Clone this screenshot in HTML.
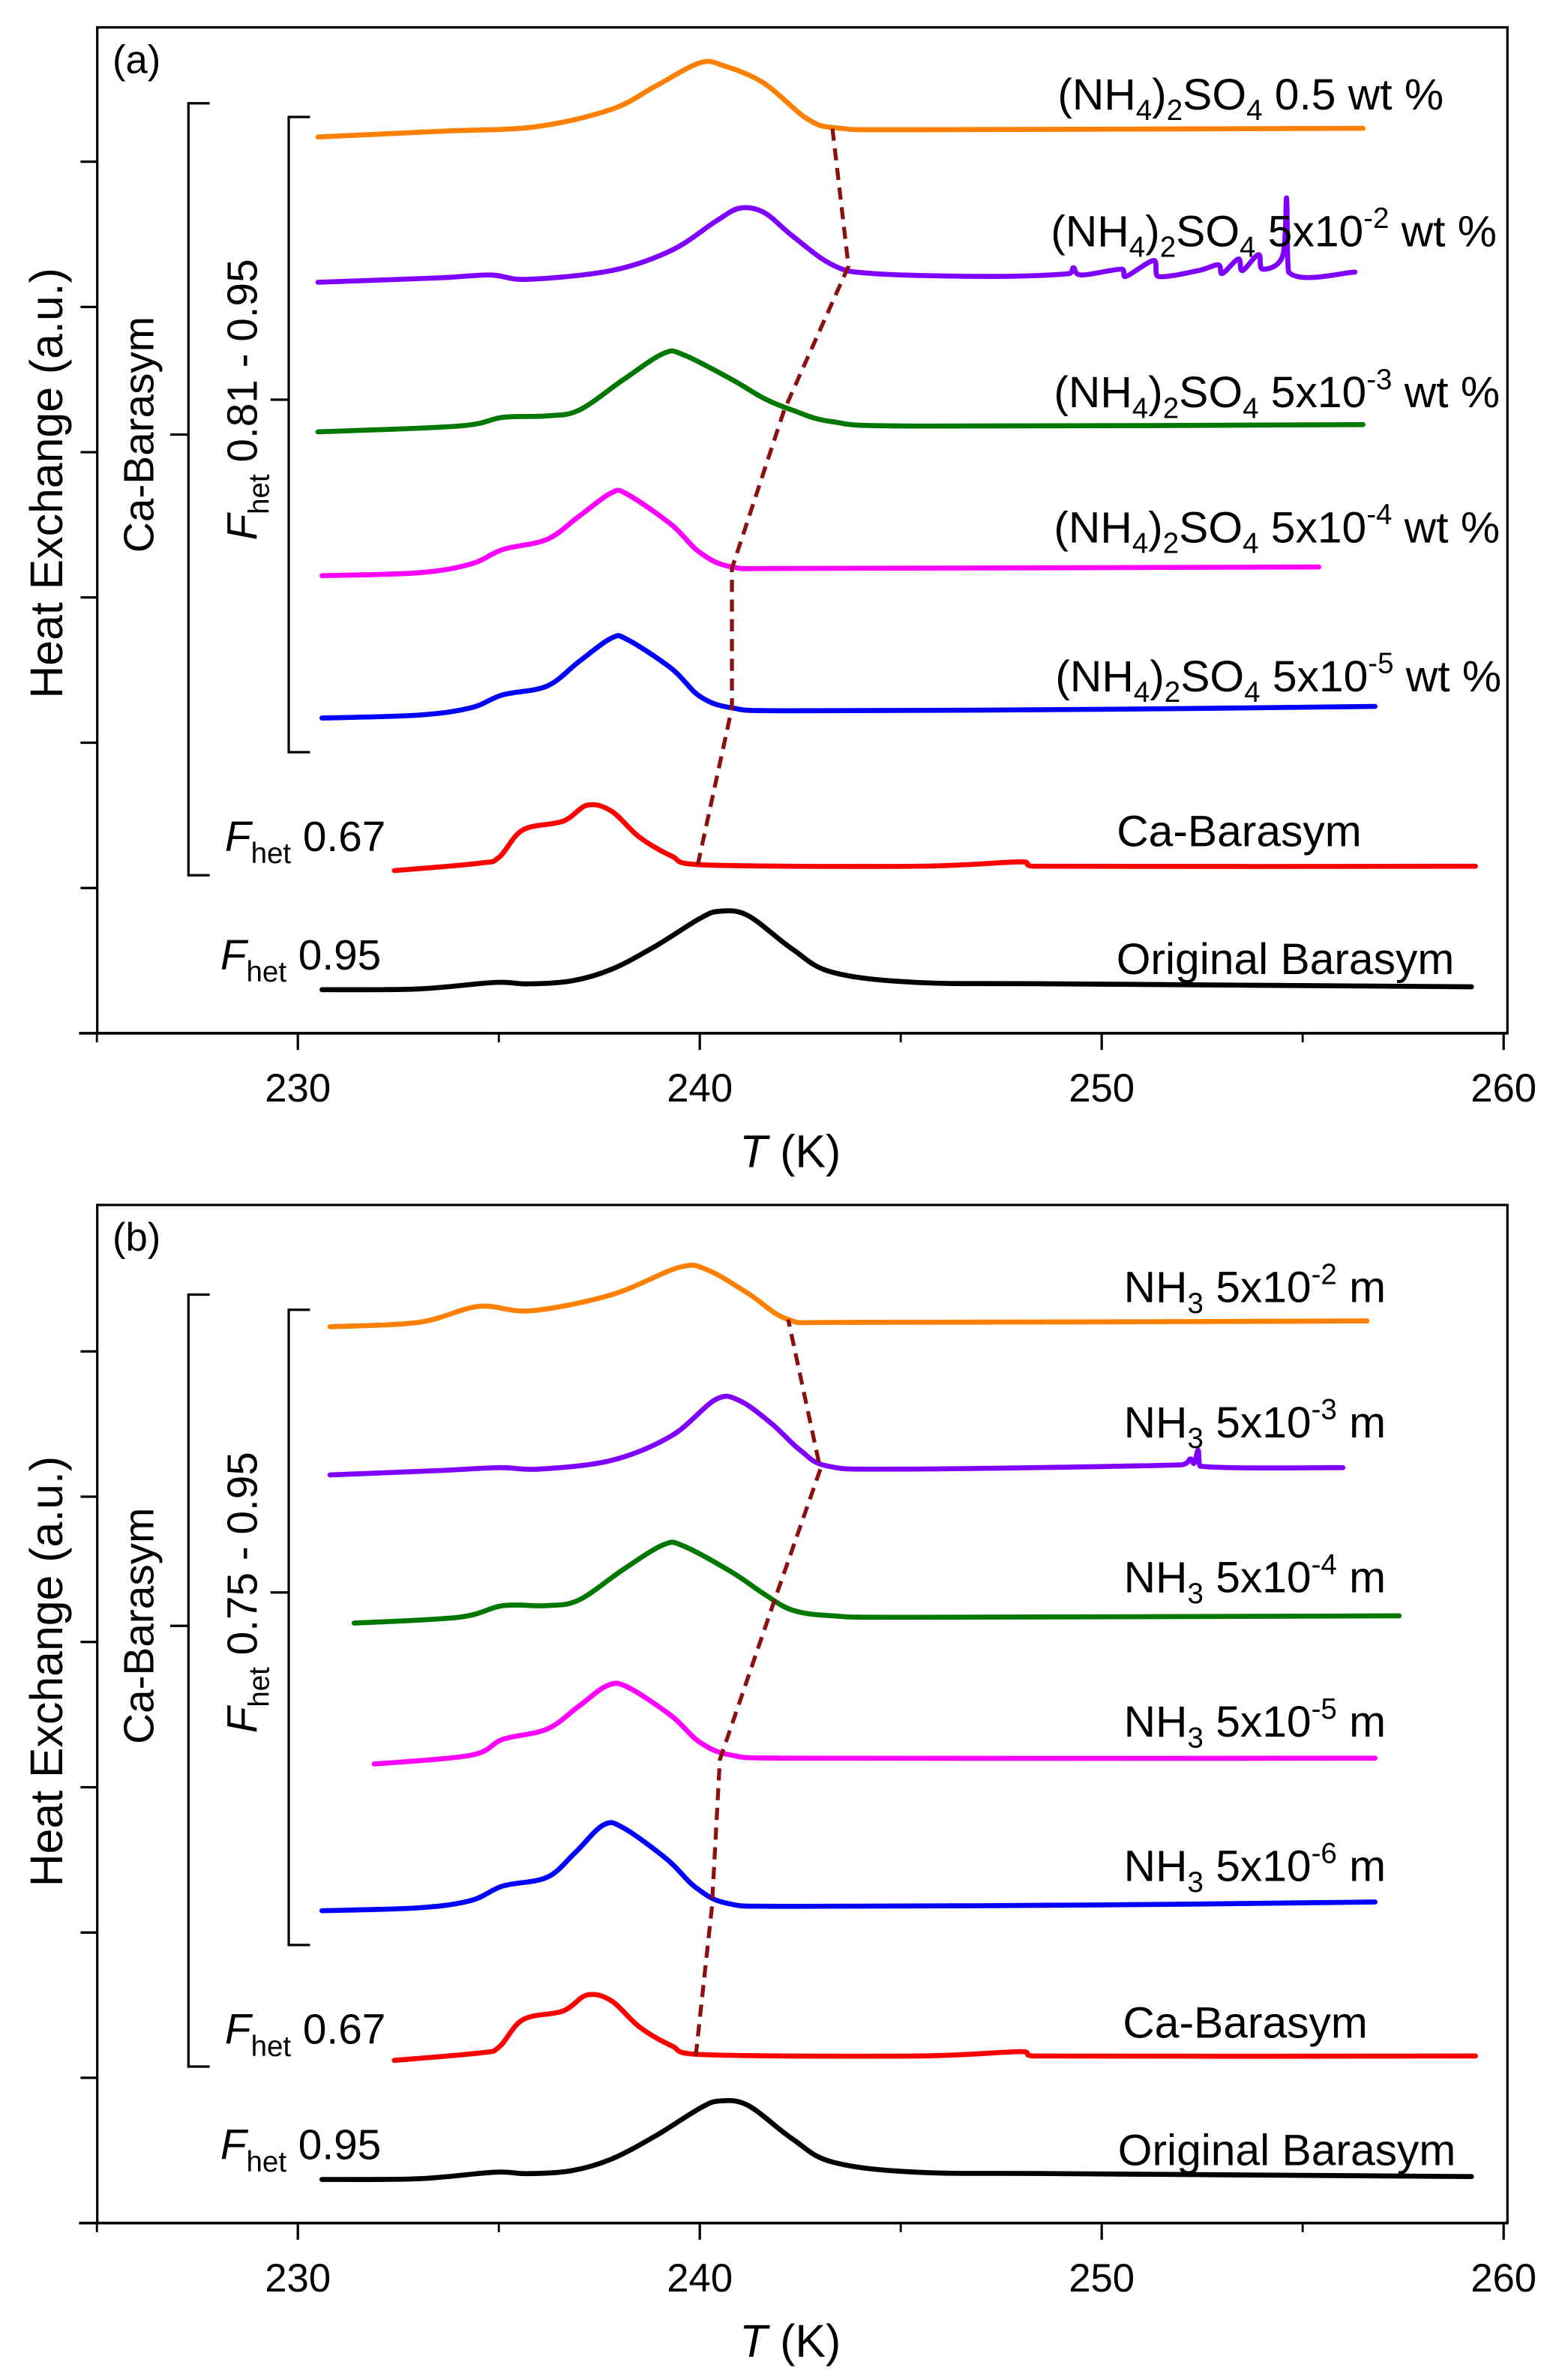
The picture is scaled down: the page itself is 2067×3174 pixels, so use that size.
<!DOCTYPE html>
<html><head><meta charset="utf-8"><style>
html,body{margin:0;padding:0;background:#fff}
svg{display:block}
text{font-family:"Liberation Sans",Arial,sans-serif;fill:#000}
</style></head><body>
<svg id="chart" xmlns="http://www.w3.org/2000/svg" width="2067" height="3174" viewBox="0 0 1020 1566.3">
<g id="pa"></g>
<g id="pb"></g>
</svg>
<script>
const xTicks=[230,240,250,260];
const xMinor=[225,235,245,255];
const yTicks=[10,20,30,40,50,60];
const colors=["#000000","#ff0000","#0000ff","#ff00ff","#007700","#8000ff","#ff8000"];
// Panel a series [T, value]
const aBlack=[[230.6,3.0],[233,3.05],[234.9,3.5],[235.7,3.4],[236.8,3.6],[237.8,4.4],[238.9,6.0],[240,7.9],[240.5,8.4],[241.2,8.1],[242.3,5.8],[243.3,4.2],[245.4,3.5],[249,3.4],[259.2,3.2]];
const aRed=[[232.4,11.2],[234.5,11.7],[235,12.1],[235.6,14.0],[236.6,14.6],[237.2,15.7],[237.8,15.3],[238.5,13.5],[239.3,12.2],[240,11.6],[245.4,11.5],[248,11.8],[248.3,11.5],[259.3,11.5]];
const aBlue=[[230.6,21.7],[233,21.9],[234.3,22.4],[235.1,23.3],[236.2,23.9],[237,25.6],[237.8,27.2],[238.2,27.1],[239.3,25.1],[240,23.2],[240.8,22.4],[242.3,22.2],[250,22.3],[256.8,22.5]];
const aPink=[[230.6,31.5],[233,31.7],[234.3,32.3],[235.1,33.3],[236.2,34.0],[237,35.6],[237.8,37.2],[238.2,37.1],[239.3,35.0],[240,33.1],[240.8,32.1],[242.3,32.0],[255.4,32.1]];
const aGreen=[[230.5,41.4],[234,41.8],[235.1,42.4],[236.2,42.5],[237,42.9],[238.1,45.0],[239.1,46.8],[239.6,46.7],[240.8,45.0],[241.6,43.7],[242.3,42.9],[243.3,42.1],[245.4,41.8],[256.5,41.9]];
const aPurple=[[230.5,51.7],[233.5,52.0],[234.8,52.2],[235.7,51.9],[237.8,52.5],[239.3,53.9],[240.4,55.9],[241,56.8],[241.6,56.5],[242.3,54.9],[243.3,52.9],[244.3,52.3],[247.3,52.1],[249.2,52.3],[249.3,52.7],[249.5,52.2],[250.5,52.6],[250.6,52.1],[251.3,53.2],[251.4,52.1],[252.4,52.5],[252.9,52.9],[253,52.3],[253.4,53.3],[253.5,52.5],[253.9,53.6],[254,52.6],[254.5,53.5],[254.6,57.5],[254.65,52.4],[256.3,52.4]];
const aOrange=[[230.5,61.7],[233.6,62.1],[235.9,62.4],[237.8,63.6],[238.9,65.2],[240,66.8],[240.6,66.6],[241.6,65.4],[242.7,62.9],[243.5,62.3],[245.4,62.2],[256.5,62.3]];
const aDash=[[239.95,11.6],[240.8,22.4],[240.8,32.0],[242.1,42.9],[243.7,52.8],[243.3,62.3]];
// Panel b series
const bBlack=[[230.6,3.0],[233,3.05],[234.9,3.5],[235.7,3.4],[236.8,3.6],[237.8,4.4],[238.9,6.0],[240,7.9],[240.5,8.4],[241.2,8.1],[242.3,5.8],[243.3,4.2],[245.4,3.5],[249,3.4],[259.2,3.2]];
const bRed=[[232.4,11.2],[234.5,11.7],[235,12.1],[235.6,14.0],[236.6,14.6],[237.2,15.7],[237.8,15.3],[238.5,13.5],[239.3,12.2],[240,11.6],[245.4,11.5],[248,11.8],[248.3,11.5],[259.3,11.5]];
const bBlue=[[230.6,21.5],[233,21.7],[234.3,22.2],[235.1,23.2],[236.2,23.8],[236.9,25.5],[237.6,27.4],[238.1,27.2],[239.2,25.0],[239.9,23.1],[240.7,22.0],[242.3,21.8],[250,21.9],[256.8,22.1]];
const bPink=[[231.9,31.6],[234.3,32.2],[235.1,33.3],[236.2,34.0],[237,35.6],[237.7,37.0],[238.2,36.9],[239.3,34.9],[240,33.1],[240.8,32.2],[242.3,32.0],[256.8,32.0]];
const bGreen=[[231.4,41.3],[234,41.7],[235.1,42.5],[236.2,42.5],[237,42.9],[238.1,45.0],[239.1,46.7],[239.6,46.6],[240.8,44.8],[241.6,43.3],[242.3,42.2],[243.3,41.8],[245.4,41.7],[257.4,41.8]];
const bPurple=[[230.8,51.5],[233.5,51.8],[235,52.0],[236,51.9],[237.8,52.5],[239.3,54.2],[240.4,56.7],[241,56.6],[241.8,55.0],[242.5,53.2],[243.2,52.1],[245,51.9],[252,52.2],[252.2,52.6],[252.3,52.3],[252.4,53.2],[252.45,52.1],[256,52.0]];
const bOrange=[[230.8,61.7],[233,62.0],[234.5,63.1],[235.8,62.8],[237.8,63.9],[239.5,65.8],[240.2,65.6],[241.2,64.0],[242.2,62.2],[243.5,62.0],[256.6,62.1]];
const bDash=[[239.9,11.5],[240.3,21.7],[240.5,31.9],[241.8,42.4],[243,51.9],[242.2,62.2]];

const NS="http://www.w3.org/2000/svg";
function xs(T){return 196+(T-230)*26.45;}
function mk(tag,attrs,parent,txt){const e=document.createElementNS(NS,tag);for(const k in attrs)e.setAttribute(k,attrs[k]);if(txt!==undefined)e.textContent=txt;parent.appendChild(e);return e;}
function smooth(pts){
  let d='M'+pts[0][0].toFixed(2)+' '+pts[0][1].toFixed(2);
  for(let i=0;i<pts.length-1;i++){
    const p0=pts[Math.max(0,i-1)],p1=pts[i],p2=pts[i+1],p3=pts[Math.min(pts.length-1,i+2)];
    const c1=[p1[0]+(p2[0]-p0[0])/6,p1[1]+(p2[1]-p0[1])/6];
    const c2=[p2[0]-(p3[0]-p1[0])/6,p2[1]-(p3[1]-p1[1])/6];
    // clamp control x within segment to avoid loops
    c1[0]=Math.min(Math.max(c1[0],p1[0]),p2[0]);c2[0]=Math.min(Math.max(c2[0],p1[0]),p2[0]);
    d+=' C'+c1[0].toFixed(2)+' '+c1[1].toFixed(2)+' '+c2[0].toFixed(2)+' '+c2[1].toFixed(2)+' '+p2[0].toFixed(2)+' '+p2[1].toFixed(2);
  }
  return d;
}

function panel(g,y0,top,series,dash,labels,ann){
  const ys=v=>y0-v*9.56;
  const fr=mk('rect',{x:64,y:top,width:928,height:y0-top,fill:'none',stroke:'#000','stroke-width':1.6},g);
  
  
  mk('line',{x1:52,y1:y0,x2:992,y2:y0,stroke:'#000','stroke-width':1.8},g);
  xTicks.forEach(t=>{
    const l=mk('line',{x1:xs(t),y1:y0,x2:xs(t),y2:y0+11,stroke:'#000','stroke-width':1.6},g);
    
    
    const tx=mk('text',{x:xs(t),y:y0+45,'font-size':26,'text-anchor':'middle'},g,String(t));
    
    
  });
  xMinor.forEach(t=>{mk('line',{x1:xs(t),y1:y0,x2:xs(t),y2:y0+6,stroke:'#000','stroke-width':1.4},g);});
  yTicks.forEach(v=>{
    const l=mk('line',{x1:53,y1:ys(v),x2:64,y2:ys(v),stroke:'#000','stroke-width':1.6},g);
    
    
  });
  series.forEach((s,i)=>{
    const d=smooth(s.map(p=>[xs(p[0]),ys(p[1])]));
    const p=mk('path',{d:d,fill:'none',stroke:colors[i],'stroke-width':3.3,'stroke-linejoin':'round','stroke-linecap':'round'},g);
    
    
  });
  const dd=dash.map((p,j)=>(j?'L':'M')+xs(p[0]).toFixed(2)+' '+ys(p[1]).toFixed(2)).join(' ');
  const dp=mk('path',{d:dd,fill:'none',stroke:'#8b1010','stroke-width':2.6,'stroke-dasharray':'8,5'},g);
  
  
  g.insertAdjacentHTML('beforeend',labels);
  const b=ann;
  g.insertAdjacentHTML('beforeend',
   `<path d="M138 ${b.o1} H124 V${b.o2} H138 M112 ${b.om} H124" fill="none" stroke="#000" stroke-width="1.6"/>
    <path d="M204 ${b.i1} H190 V${b.i2} H204 M178 ${b.im} H190" fill="none" stroke="#000" stroke-width="1.6"/>
    <text transform="translate(101 ${b.om}) rotate(-90)" font-size="28" text-anchor="middle">Ca-Barasym</text>
    <text transform="translate(169 ${b.im}) rotate(-90)" font-size="28" text-anchor="middle"><tspan font-style="italic">F</tspan><tspan font-size="19" dy="8">het</tspan><tspan dy="-8"> ${b.range}</tspan></text>
    <text transform="translate(41 ${b.yt}) rotate(-90)" font-size="30" text-anchor="middle">Heat Exchange (a.u.)</text>
    <text x="520" y="${y0+88}" font-size="30" text-anchor="middle"><tspan font-style="italic">T</tspan> (K)</text>
    <text x="74" y="${top+30}" font-size="26">${b.tag}</text>`);
}
const fs='font-size="29" text-anchor="end"';
function nh4(y,right,exp,txt){return `<text x="${right}" y="${y}" ${fs}>(NH<tspan font-size="19" dy="7">4</tspan><tspan dy="-7">)</tspan><tspan font-size="19" dy="7">2</tspan><tspan dy="-7">SO</tspan><tspan font-size="19" dy="7">4</tspan><tspan dy="-7"> ${txt}</tspan>${exp?`<tspan font-size="19" dy="-12">${exp}</tspan><tspan dy="12"> wt %</tspan>`:''}</text>`;}
function nh3(y,exp){return `<text x="912" y="${y}" ${fs}>NH<tspan font-size="19" dy="7">3</tspan><tspan dy="-7"> 5x10</tspan><tspan font-size="19" dy="-12">${exp}</tspan><tspan dy="12"> m</tspan></text>`;}
function fh(x,y,v){return `<text x="${x}" y="${y}" font-size="28"><tspan font-style="italic">F</tspan><tspan font-size="19" dy="8">het</tspan><tspan dy="-8"> ${v}</tspan></text>`;}
const labA=nh4(72,950,'','0.5 wt %')+nh4(162,985,'-2','5x10')+nh4(268,987,'-3','5x10')+nh4(357,987,'-4','5x10')+nh4(455,988,'-5','5x10')+
 `<text x="896" y="557" ${fs}>Ca-Barasym</text><text x="957" y="641" ${fs}>Original Barasym</text>`+fh(148,560,'0.67')+fh(145,638,'0.95');
const labB=nh3(857,'-2')+nh3(946,'-3')+nh3(1048,'-4')+nh3(1143,'-5')+nh3(1238,'-6')+
 `<text x="900" y="1341" ${fs}>Ca-Barasym</text><text x="958" y="1425" ${fs}>Original Barasym</text>`+fh(148,1345,'0.67')+fh(145,1421,'0.95');
panel(document.getElementById('pa'),680,18,[aBlack,aRed,aBlue,aPink,aGreen,aPurple,aOrange],aDash,labA,
 {o1:68,o2:576,om:286,i1:77,i2:495,im:263,range:'0.81 - 0.95',yt:318,tag:'(a)'});
panel(document.getElementById('pb'),1463,793,[bBlack,bRed,bBlue,bPink,bGreen,bPurple,bOrange],bDash,labB,
 {o1:852,o2:1360,om:1070,i1:862,i2:1280,im:1048,range:'0.75 - 0.95',yt:1100,tag:'(b)'});
</script>
</body></html>
